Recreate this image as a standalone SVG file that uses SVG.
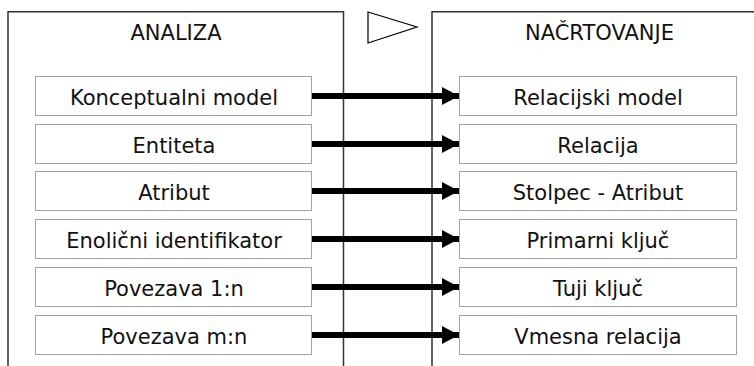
<svg xmlns="http://www.w3.org/2000/svg" width="754" height="366" viewBox="0 0 754 366">
<style>
.frame{fill:none;stroke:#333;stroke-width:1.5}
.box{fill:#fff;stroke:#444;stroke-width:1;stroke-dasharray:1 1}
.t{font-family:"DejaVu Sans","Verdana",sans-serif;font-size:21px;fill:#111;text-anchor:middle}
.arr{stroke:#000;stroke-width:6;fill:none;marker-end:url(#ah)}
</style>
<defs>
<marker id="ah" markerWidth="17" markerHeight="18" refX="17" refY="9" orient="auto" markerUnits="userSpaceOnUse">
<path d="M0,0 L17,9 L0,18 Z" fill="#000"/>
</marker>
</defs>
<rect width="754" height="366" fill="#fff"/>
<g id="analiza">
<path class="frame" d="M8,366 V11.75 H343.5 V366"/>
<text class="t" x="176" y="40">ANALIZA</text>
</g>
<g id="nacrtovanje">
<path class="frame" d="M432,366 V11.75 H754"/>
<text class="t" x="599.5" y="40">NAČRTOVANJE</text>
</g>
<g id="phase-arrow">
<polygon points="368,12 417,27 368,43" fill="#fff" stroke="#000" stroke-width="1.2"/>
</g>
<g id="connectors">
<line class="arr" x1="312" y1="96" x2="459" y2="96"/>
<line class="arr" x1="312" y1="144" x2="459" y2="144"/>
<line class="arr" x1="312" y1="191" x2="459" y2="191"/>
<line class="arr" x1="312" y1="239" x2="459" y2="239"/>
<line class="arr" x1="312" y1="287" x2="459" y2="287"/>
<line class="arr" x1="312" y1="335" x2="459" y2="335"/>
</g>
<g id="l1"><rect class="box" x="35.5" y="76.5" width="276" height="39"/><text class="t" x="174" y="105">Konceptualni model</text></g>
<g id="l2"><rect class="box" x="35.5" y="124.5" width="276" height="39"/><text class="t" x="174" y="153">Entiteta</text></g>
<g id="l3"><rect class="box" x="35.5" y="171.5" width="276" height="39"/><text class="t" x="174" y="200">Atribut</text></g>
<g id="l4"><rect class="box" x="35.5" y="219.5" width="276" height="39"/><text class="t" x="174" y="248">Enolični identifikator</text></g>
<g id="l5"><rect class="box" x="35.5" y="267.5" width="276" height="39"/><text class="t" x="174" y="296">Povezava 1:n</text></g>
<g id="l6"><rect class="box" x="35.5" y="315.5" width="276" height="39"/><text class="t" x="174" y="344">Povezava m:n</text></g>
<g id="r1"><rect class="box" x="459.5" y="76.5" width="277" height="39"/><text class="t" x="598" y="105">Relacijski model</text></g>
<g id="r2"><rect class="box" x="459.5" y="124.5" width="277" height="39"/><text class="t" x="598" y="153">Relacija</text></g>
<g id="r3"><rect class="box" x="459.5" y="171.5" width="277" height="39"/><text class="t" x="598" y="200">Stolpec - Atribut</text></g>
<g id="r4"><rect class="box" x="459.5" y="219.5" width="277" height="39"/><text class="t" x="598" y="248">Primarni ključ</text></g>
<g id="r5"><rect class="box" x="459.5" y="267.5" width="277" height="39"/><text class="t" x="598" y="296">Tuji ključ</text></g>
<g id="r6"><rect class="box" x="459.5" y="315.5" width="277" height="39"/><text class="t" x="598" y="344">Vmesna relacija</text></g>
</svg>
